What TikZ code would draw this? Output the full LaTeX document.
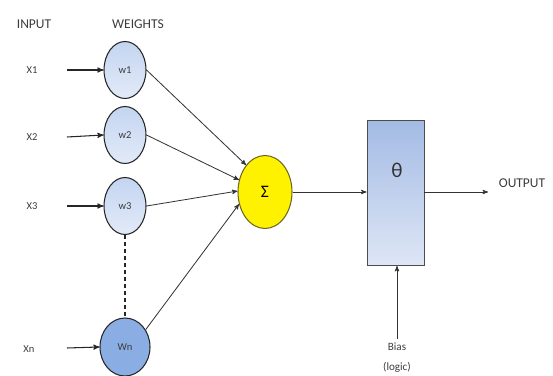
\documentclass[tikz,border=0pt]{standalone}
\usepackage{fontspec}
\setmainfont{Carlito}
\usetikzlibrary{arrows,shapes,positioning}

\definecolor{wtop}{RGB}{196,213,241}
\definecolor{wbot}{RGB}{226,234,248}
\definecolor{wnfill}{RGB}{138,174,228}
\definecolor{boxtop}{RGB}{163,187,228}
\definecolor{boxbot}{RGB}{222,230,246}
\definecolor{ink}{RGB}{60,60,60}

\begin{document}
\begin{tikzpicture}[x=0.03cm,y=-0.03cm,>=stealth',auto]
  \tikzstyle{weight}=[ellipse,draw=black!85,line width=0.9pt,top color=wtop,bottom color=wbot,minimum width=1.26cm,minimum height=1.71cm,inner sep=0pt,font=\fontsize{9}{10}\selectfont,text=ink]
  \tikzstyle{weightn}=[weight,top color=wnfill,bottom color=wnfill,minimum width=1.5cm,minimum height=1.74cm]
  \tikzstyle{input}=[font=\fontsize{9}{10}\selectfont,text=ink]
  \tikzstyle{head}=[font=\fontsize{11.5}{13}\selectfont,text=ink]
  \tikzstyle{sum}=[ellipse,draw=olive!70!black,line width=0.9pt,fill=yellow,minimum width=1.62cm,minimum height=2.19cm,inner sep=0pt,font=\fontsize{15}{16}\selectfont]
  \tikzstyle{act}=[rectangle,draw=black!70,line width=0.8pt,top color=boxtop,bottom color=boxbot,minimum width=1.71cm,minimum height=4.35cm]

  \useasboundingbox (0,0) rectangle (553,376);

  % Headings.
  \node [head] (inp) at (34,24) {INPUT};
  \node [head] (wts) at (138,24) {WEIGHTS};

  % Inputs and their weights.
  \node [input] (x1) at (32,70) {X1};
  \node [input] (x2) at (32,137) {X2};
  \node [input] (x3) at (32,206) {X3};
  \node [input] (xn) at (29,349) {Xn};
  \coordinate (in1) at (67,70);
  \coordinate (in2) at (67,137);
  \coordinate (in3) at (67,206);
  \coordinate (inn) at (67,348);

  \node [weight] (w1) at (125,70) {w1};
  \node [weight] (w2) at (125,135) {w2};
  \node [weight] (w3) at (125,206) {w3};
  \node [weightn] (wn) at (125,347) {Wn};

  % Summation and activation.
  \node [sum] (sum) at (265,192) {Σ};
  \node [act] (act) at (395.5,193) {};
  \node [font=\fontsize{18}{20}\selectfont,text=black!80] (theta) at (397,170) {θ};
  \node [head] (out) at (522,183) {OUTPUT};
  \coordinate (outend) at (488,192);
  \node [input,align=center,font=\fontsize{9.5}{17}\selectfont] (bias) at (397,358) {Bias\\(logic)};

  \begin{scope}[->,line width=0.9pt,draw=black!85]
   \draw (in1) -- (w1.west);
   \draw (in2) -- (w2.west);
   \draw (in3) -- (w3.west);
   \draw (inn) -- (wn.west);
  \end{scope}

  \begin{scope}[->,line width=0.7pt,draw=black!80]
   \draw (w1.east) -- (sum.125);
   \draw (w2.east) -- (sum.155);
   \draw (w3.east) -- (sum.178);
   \draw (wn.40) -- (sum.205);
   \draw (sum.east) -- (act.west |- sum.east);
   \draw (act.east |- sum.east) -- (outend);
   \draw (bias.north) -- (act.south -| bias.north);
  \end{scope}

  \draw [dashed,line width=0.9pt,black!85] (w3.south) -- (wn.north);
\end{tikzpicture}
\end{document}
